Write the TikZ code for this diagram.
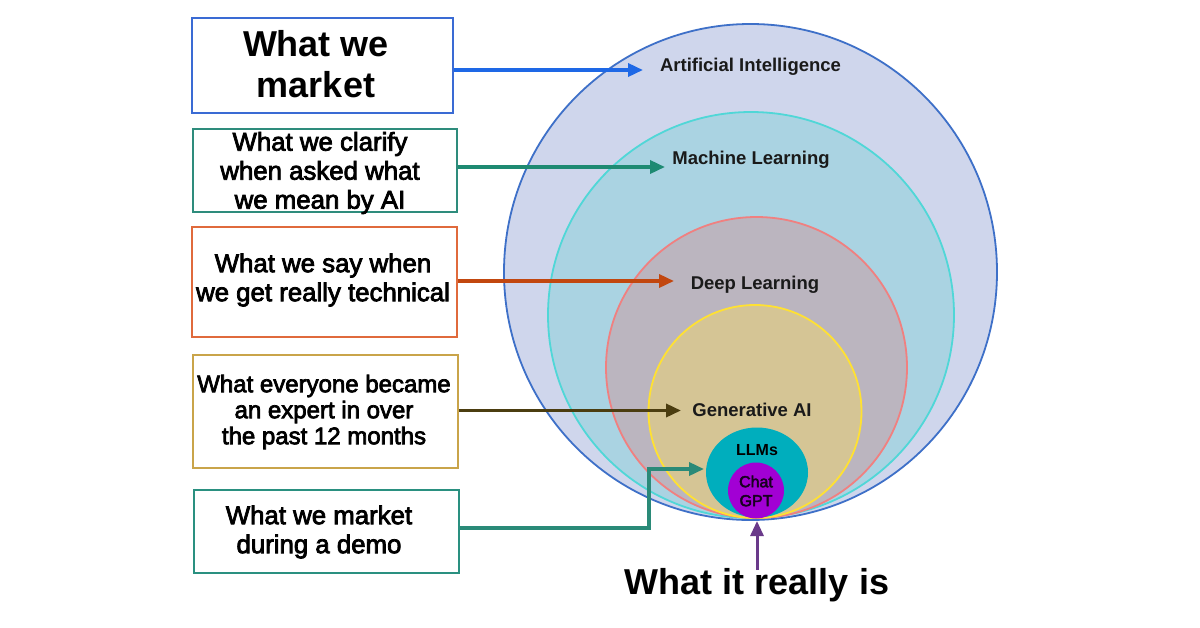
\documentclass[tikz,border=0pt]{standalone}
\usepackage{fontspec}
\setmainfont{Liberation Sans}
\newfontfamily\semib[FakeBold=3]{Liberation Sans}
\usetikzlibrary{arrows.meta}
\definecolor{aifill}{RGB}{207,214,236}
\definecolor{ailine}{RGB}{62,112,200}
\definecolor{mlfill}{RGB}{170,211,226}
\definecolor{mlline}{RGB}{80,215,215}
\definecolor{dlfill}{RGB}{187,181,191}
\definecolor{dlline}{RGB}{240,128,128}
\definecolor{gafill}{RGB}{213,197,149}
\definecolor{galine}{RGB}{255,225,50}
\definecolor{llmfill}{RGB}{0,174,189}
\definecolor{gptfill}{RGB}{162,0,212}
\definecolor{boxblue}{RGB}{58,107,212}
\definecolor{arrblue}{RGB}{30,104,230}
\definecolor{boxteal}{RGB}{46,140,124}
\definecolor{arrteal}{RGB}{30,138,114}
\definecolor{boxorange}{RGB}{224,106,60}
\definecolor{arrorange}{RGB}{194,71,15}
\definecolor{boxgold}{RGB}{201,164,74}
\definecolor{arrolive}{RGB}{75,61,16}
\definecolor{boxteal2}{RGB}{42,144,128}
\definecolor{arrteal2}{RGB}{42,138,120}
\definecolor{arrpurple}{RGB}{106,58,138}
\definecolor{labeltxt}{RGB}{26,26,26}
\begin{document}
\begin{tikzpicture}[x=1pt,y=-1pt,
  boxnode/.style={draw, line width=1.8pt, minimum width=#1, inner sep=0pt},
  boxtext/.style={align=center, text=black, inner sep=0pt, font={\semib\fontsize{25.8}{29}\selectfont}},
  circlabel/.style={text=labeltxt, inner sep=0pt, font={\bfseries\fontsize{18.5}{22}\selectfont}},
  arr/.style={line width=3.5pt, -{Triangle[length=15pt,width=13pt]}},
  circ/.style={line width=1.8pt}]
\useasboundingbox (0,0) rectangle (1200,627);
\fill[white] (0,0) rectangle (1200,627);

% nested sets
\draw[circ, fill=aifill, draw=ailine] (750.5,272) ellipse [x radius=246.5pt, y radius=248pt];
\draw[circ, fill=mlfill, draw=mlline] (751,315) circle [radius=203pt];
\draw[circ, fill=dlfill, draw=dlline] (756.5,367.5) circle [radius=150.5pt];
\draw[circ, fill=gafill, draw=galine] (755,411.5) circle [radius=106.5pt];
\fill[llmfill] (757,472.5) ellipse [x radius=51pt, y radius=45pt];
\fill[gptfill] (756,490.5) circle [radius=28pt];

% labels in the circles
\node[circlabel] (lai) at (750.5,67) {Artificial Intelligence};
\node[circlabel] (lml) at (751,160) {Machine Learning};
\node[circlabel] (ldl) at (755,285) {Deep Learning};
\node[circlabel] (lga) at (752,410) {Generative AI};
\node[text=black, inner sep=0pt, font={\bfseries\fontsize{16}{19}\selectfont}] (lllm) at (757,450) {LLMs};
\node[align=center, text=black!85!gptfill, inner sep=0pt, font={\semib\fontsize{16}{19}\selectfont}] (lgpt) at (756,491) {Chat\\GPT};

% boxes
\node[boxnode=261pt, minimum height=95pt, draw=boxblue] (b1) at (322.5,65.5) {};
\node[boxnode=264pt, minimum height=83pt, draw=boxteal] (b2) at (325,170.5) {};
\node[boxnode=265pt, minimum height=110pt, draw=boxorange] (b3) at (324.5,282) {};
\node[boxnode=265pt, minimum height=113pt, draw=boxgold] (b4) at (325.5,411.5) {};
\node[boxnode=265pt, minimum height=83pt, draw=boxteal2] (b5) at (326.5,531.5) {};

% box texts
\node[align=center, inner sep=0pt, font={\bfseries\fontsize{36}{41}\selectfont}] (t1) at (316,64) {What we\\market};
\node[boxtext] (t2) at (320,173) {What we clarify\\when asked what\\we mean by AI};
\node[boxtext] (t3) at (323,280) {What we say when\\we get really technical};
\node[boxtext, font={\semib\fontsize{24}{26}\selectfont}] (t4) at (324,412) {What everyone became\\an expert in over\\the past 12 months};
\node[boxtext] (t5) at (319,532) {What we market\\during a demo};

% arrow tips
\coordinate (p1) at (643,70);
\coordinate (p2) at (665,167);
\coordinate (p3) at (674,281);
\coordinate (p4) at (681,410.5);
\coordinate (k5) at (649,528);
\coordinate (p5) at (704,469);

\draw[arr, arrblue] (b1.east |- p1) -- (p1);
\draw[arr, arrteal] (b2.east |- p2) -- (p2);
\draw[arr, arrorange] (b3.east |- p3) -- (p3);
\draw[arr, arrolive] (b4.east |- p4) -- (p4);
\draw[arr, arrteal2, line join=miter] (b5.east |- k5) -- (k5) |- (p5);

% bottom caption
\node[inner sep=0pt, font={\bfseries\fontsize{36}{41}\selectfont}] (cap) at (757,585) {What it really is};
\coordinate (q) at (757,521);
\draw[arr, arrpurple, line width=3pt] (cap.north |- 0,570) -- (q);
\end{tikzpicture}
\end{document}
